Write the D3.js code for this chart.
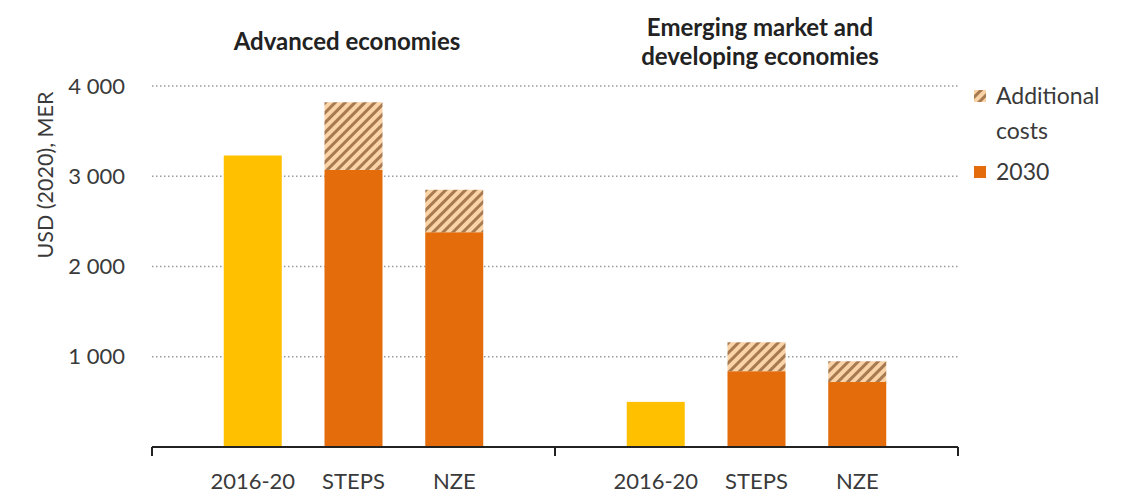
<!DOCTYPE html>
<html><head><meta charset="utf-8">
<script src="https://cdn.jsdelivr.net/npm/d3@7"></script>
<style>body{margin:0;background:#fff;} text{font-family:Lato,"Open Sans",sans-serif;fill:#3a3a3a;}</style>
</head><body><svg id="c" width="1135" height="498"></svg>
<script>
const groups = ["Advanced economies", "Emerging market and developing economies"];
const groupTitles = [["Advanced economies"], ["Emerging market and", "developing economies"]];
const categories = ["2016-20", "STEPS", "NZE"];
const base2030 = [[3230, 3070, 2380], [500, 840, 720]];
const additional = [[0, 750, 470], [0, 320, 230]];
const yTicks = [1000, 2000, 3000, 4000];
const tickLabels = ["1 000", "2 000", "3 000", "4 000"];

const svg = d3.select("#c");
const m = {l:152, r:958, t:86, b:447};
const y = d3.scaleLinear().domain([0, 4000]).range([m.b, m.t]);
const gx = d3.scaleBand().domain(groups).range([m.l, m.r]).padding(0);
const cx = d3.scalePoint().domain(categories).range([0.25, 0.75]);
const bw = 58;

const defs = svg.append("defs");
const pat = defs.append("pattern").attr("id","hatch").attr("patternUnits","userSpaceOnUse")
  .attr("width",7).attr("height",7).attr("patternTransform","rotate(45)");
pat.append("rect").attr("width",7).attr("height",7).attr("fill","#FAD3A6");
pat.append("rect").attr("x",0).attr("width",3).attr("height",7).attr("fill","#A77A52");

// gridlines
svg.append("g").selectAll("line").data(yTicks).join("line")
  .attr("x1", m.l).attr("x2", m.r).attr("y1", d=>y(d)).attr("y2", d=>y(d))
  .attr("stroke","#9a9a9a").attr("stroke-width",1.5).attr("stroke-dasharray","1.5,2.5");

// y tick labels
svg.append("g").selectAll("text").data(yTicks).join("text")
  .attr("x", 125).attr("y", d=>y(d)).attr("dy","0.35em").attr("text-anchor","end")
  .style("font-size","22px").text((d,i)=>tickLabels[i]);

// y label
svg.append("text").attr("transform","translate(45,175) rotate(-90)").attr("text-anchor","middle")
  .attr("dy","0.35em").style("font-size","21.5px").text("USD (2020), MER");

// bars
groups.forEach((g,gi)=>{
  const x0 = gx(g), w = gx.bandwidth();
  const gg = svg.append("g");
  categories.forEach((c,ci)=>{
    const xc = x0 + cx(c)*w;
    const b = base2030[gi][ci], a = additional[gi][ci];
    gg.append("rect").attr("x", xc-bw/2).attr("width", bw)
      .attr("y", y(b)).attr("height", y(0)-y(b))
      .attr("fill", ci===0 ? "#FFC000" : "#E46C0A");
    if (a>0) gg.append("rect").attr("x", xc-bw/2).attr("width", bw)
      .attr("y", y(b+a)).attr("height", y(b)-y(b+a)).attr("fill","url(#hatch)");
    svg.append("text").attr("x", xc).attr("y", 481).attr("text-anchor","middle")
      .attr("dy","0.35em").style("font-size","22px").text(c);
  });
  groupTitles[gi].forEach((t,ti)=>{
    svg.append("text").attr("x", gi===0 ? 347 : 760)
      .attr("y", gi===0 ? 42 : 28 + ti*29).attr("dy","0.35em").attr("text-anchor","middle")
      .style("font-size","24px").style("font-weight","bold").style("fill","#222").text(t);
  });
});

// x axis
svg.append("line").attr("x1",m.l).attr("x2",m.r).attr("y1",m.b).attr("y2",m.b).attr("stroke","#222").attr("stroke-width",2);
svg.append("g").selectAll("line").data([m.l, gx(groups[1]), m.r]).join("line")
  .attr("x1",d=>d).attr("x2",d=>d).attr("y1",m.b).attr("y2",m.b+9).attr("stroke","#222").attr("stroke-width",2);

// legend
const lg = svg.append("g");
lg.append("rect").attr("x",974).attr("y",90).attr("width",12).attr("height",12).attr("fill","url(#hatch)");
lg.append("text").attr("x",996).attr("y",96).attr("dy","0.35em").style("font-size","23px").text("Additional");
lg.append("text").attr("x",996).attr("y",131).attr("dy","0.35em").style("font-size","23px").text("costs");
lg.append("rect").attr("x",974).attr("y",166).attr("width",12).attr("height",12).attr("fill","#E46C0A");
lg.append("text").attr("x",996).attr("y",172).attr("dy","0.35em").style("font-size","23px").text("2030");
</script></body></html>
